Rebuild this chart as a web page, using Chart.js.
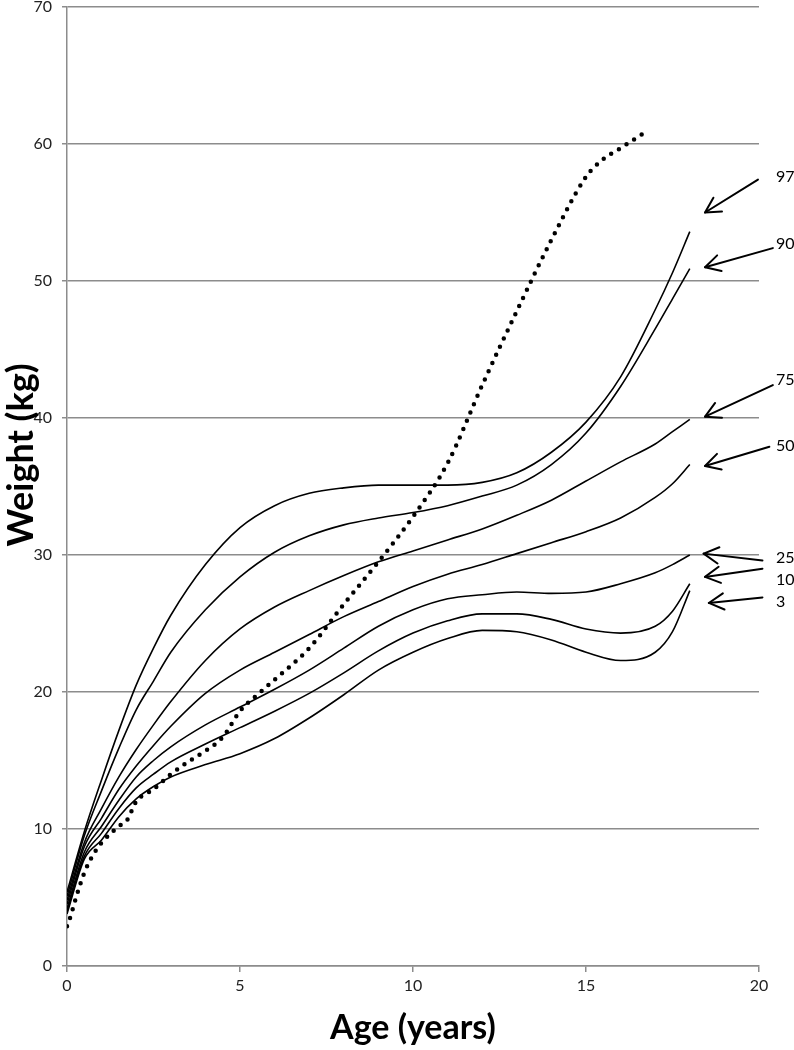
<!DOCTYPE html>
<html>
<head>
<meta charset="utf-8">
<script src="https://cdn.jsdelivr.net/npm/chart.js@4.4.1/dist/chart.umd.min.js"></script>
<style>
  html, body { margin: 0; padding: 0; background: #fff; }
  #wrap { width: 794px; height: 1050px; }
</style>
</head>
<body>
<div id="wrap"><canvas id="growthChart"></canvas></div>
<script>
// percentile curves, age in years
const ages = [0, 0.5, 1, 1.5, 2, 2.5, 3, 4, 5, 6, 7, 8, 9, 10, 11, 12, 13, 14, 15, 16, 17, 17.5, 18];

const p97 = [5.4, 9.8, 13.6, 17.2, 20.5, 23.2, 25.6, 29.3, 32.0, 33.6, 34.5, 34.9, 35.1, 35.1, 35.1, 35.3, 36.0, 37.5, 39.7, 43.0, 47.9, 50.6, 53.6];
const p90 = [5.1, 9.5, 12.8, 15.9, 18.7, 20.8, 22.9, 26.0, 28.4, 30.2, 31.4, 32.2, 32.7, 33.1, 33.6, 34.3, 35.1, 36.6, 38.9, 42.3, 46.5, 48.7, 50.9];
const p75 = [4.8, 9.0, 11.5, 13.8, 15.8, 17.6, 19.3, 22.3, 24.6, 26.2, 27.4, 28.5, 29.5, 30.3, 31.1, 31.9, 32.9, 34.0, 35.4, 36.8, 38.1, 39.0, 39.9];
const p50 = [4.5, 8.7, 10.8, 12.9, 14.6, 16.1, 17.5, 19.9, 21.6, 22.9, 24.2, 25.5, 26.6, 27.7, 28.6, 29.3, 30.1, 30.9, 31.7, 32.7, 34.2, 35.2, 36.6];
const p25 = [4.2, 8.3, 10.2, 12.1, 13.8, 15.0, 16.0, 17.6, 18.9, 20.2, 21.6, 23.2, 24.8, 26.0, 26.8, 27.1, 27.3, 27.2, 27.3, 27.9, 28.7, 29.3, 30.0];
const p10 = [4.0, 8.0, 9.7, 11.5, 13.0, 14.0, 14.9, 16.2, 17.4, 18.6, 19.9, 21.4, 23.0, 24.3, 25.2, 25.7, 25.7, 25.3, 24.6, 24.3, 24.8, 25.9, 27.9];
const p3 = [3.8, 7.8, 9.2, 10.9, 12.2, 13.1, 13.8, 14.7, 15.5, 16.6, 18.1, 19.8, 21.6, 22.9, 23.9, 24.5, 24.4, 23.8, 22.9, 22.3, 22.9, 24.4, 27.4];

// the patient (dotted line)
const patientAges = [0, 0.1, 0.25, 0.5, 0.75, 1, 1.5, 1.75, 1.9, 2, 2.5, 3, 3.5, 4, 4.5, 5, 5.5, 6, 7, 8, 9, 10, 11, 12, 13, 14, 15, 15.5, 16, 16.8];
const patientWeights = [2.9, 3.6, 4.9, 6.8, 8.1, 9.0, 10.2, 10.7, 11.5, 12.0, 12.9, 14.0, 14.9, 15.7, 16.7, 18.6, 19.8, 20.9, 23.2, 26.4, 29.5, 32.8, 36.7, 42.4, 47.8, 53.0, 57.6, 58.9, 59.7, 61.0];

const xTicks = [0, 5, 10, 15, 20];
const yTicks = [0, 10, 20, 30, 40, 50, 60, 70];

// arrow annotations on the right: label, head (age, kg), tail (age, kg), label kg
const arrowLabels = ['97', '90', '75', '50', '25', '10', '3'];
const arrowHeads = [[18.44, 55.0], [18.44, 51.0], [18.44, 40.1], [18.44, 36.5], [18.4, 30.1], [18.44, 28.4], [18.55, 26.5]];
const arrowTails = [[19.97, 57.4], [20.4, 52.4], [20.4, 42.4], [20.3, 37.9], [20.1, 29.6], [20.1, 29.0], [20.1, 26.9]];
const labelKg = [57.6, 52.7, 42.8, 38.0, 29.8, 28.2, 26.6];

const gridGray = '#8c8c8c';

function toPoints(xs, ys) {
    return xs.map((a, i) => ({x: a, y: ys[i]}));
}

function curve(values) {
    return {
        data: toPoints(ages, values),
        borderColor: '#000',
        borderWidth: 1.6,
        pointRadius: 0,
        fill: false,
        cubicInterpolationMode: 'monotone'
    };
}

const arrowPlugin = {
    id: 'arrows',
    afterDatasetsDraw(chart) {
        const ctx = chart.ctx;
        const x = chart.scales.x;
        const y = chart.scales.y;
        const labelX = x.getPixelForValue(20.49);

        ctx.save();
        ctx.strokeStyle = '#000';
        ctx.lineWidth = 2;
        ctx.lineCap = 'round';
        ctx.lineJoin = 'round';
        ctx.fillStyle = '#000';
        ctx.font = '16px Lato';
        ctx.textAlign = 'left';
        ctx.textBaseline = 'middle';

        arrowLabels.forEach((label, i) => {
            const hx = x.getPixelForValue(arrowHeads[i][0]);
            const hy = y.getPixelForValue(arrowHeads[i][1]);
            const tx = x.getPixelForValue(arrowTails[i][0]);
            const ty = y.getPixelForValue(arrowTails[i][1]);
            const ang = Math.atan2(ty - hy, tx - hx);
            const len = 17;
            const spread = 0.5;

            ctx.beginPath();
            ctx.moveTo(tx, ty);
            ctx.lineTo(hx, hy);
            ctx.stroke();

            ctx.beginPath();
            ctx.moveTo(hx + len * Math.cos(ang + spread), hy + len * Math.sin(ang + spread));
            ctx.lineTo(hx, hy);
            ctx.lineTo(hx + len * Math.cos(ang - spread), hy + len * Math.sin(ang - spread));
            ctx.stroke();

            ctx.fillText(label, labelX, y.getPixelForValue(labelKg[i]));
        });

        // y axis title, a little above the middle of the plot
        ctx.translate(21, 455);
        ctx.rotate(-Math.PI / 2);
        ctx.textAlign = 'center';
        ctx.font = 'bold 36px Lato';
        ctx.fillText('Weight (kg)', 0, 0);
        ctx.restore();
    }
};

new Chart(document.getElementById('growthChart'), {
    type: 'line',
    data: {
        datasets: [
            curve(p97), curve(p90), curve(p75), curve(p50), curve(p25), curve(p10), curve(p3),
            {
                data: toPoints(patientAges, patientWeights),
                borderColor: '#000',
                borderWidth: 4.5,
                borderDash: [0, 9],
                borderCapStyle: 'round',
                pointRadius: 0,
                fill: false,
                cubicInterpolationMode: 'monotone'
            }
        ]
    },
    options: {
        responsive: true,
        maintainAspectRatio: false,
        animation: false,
        layout: {padding: {top: 0, right: 35, left: 0, bottom: 0}},
        plugins: {
            legend: {display: false},
            tooltip: {enabled: false}
        },
        scales: {
            x: {
                type: 'linear',
                min: 0,
                max: 20,
                afterFit(scale) { scale.height = 84; },
                afterBuildTicks(scale) { scale.ticks = xTicks.map(v => ({value: v})); },
                grid: {drawOnChartArea: false, drawTicks: true, tickLength: 6, color: gridGray, lineWidth: 1.5},
                border: {color: gridGray, width: 1.5},
                ticks: {color: '#222', padding: 4, maxRotation: 0, font: {family: 'Lato', size: 16}},
                title: {
                    display: true,
                    text: 'Age (years)',
                    color: '#000',
                    padding: {top: 0, bottom: 2},
                    font: {family: 'Lato', size: 34, weight: 'bold'}
                }
            },
            y: {
                min: 0,
                max: 70,
                afterFit(scale) {
                    scale.width = 67;
                    scale.paddingTop = 7;
                },
                afterBuildTicks(scale) { scale.ticks = yTicks.map(v => ({value: v})); },
                grid: {color: gridGray, lineWidth: 1.5, tickLength: 5},
                border: {color: gridGray, width: 1.5},
                ticks: {color: '#222', padding: 10, font: {family: 'Lato', size: 16}}
            }
        }
    },
    plugins: [arrowPlugin]
});
</script>
</body>
</html>
